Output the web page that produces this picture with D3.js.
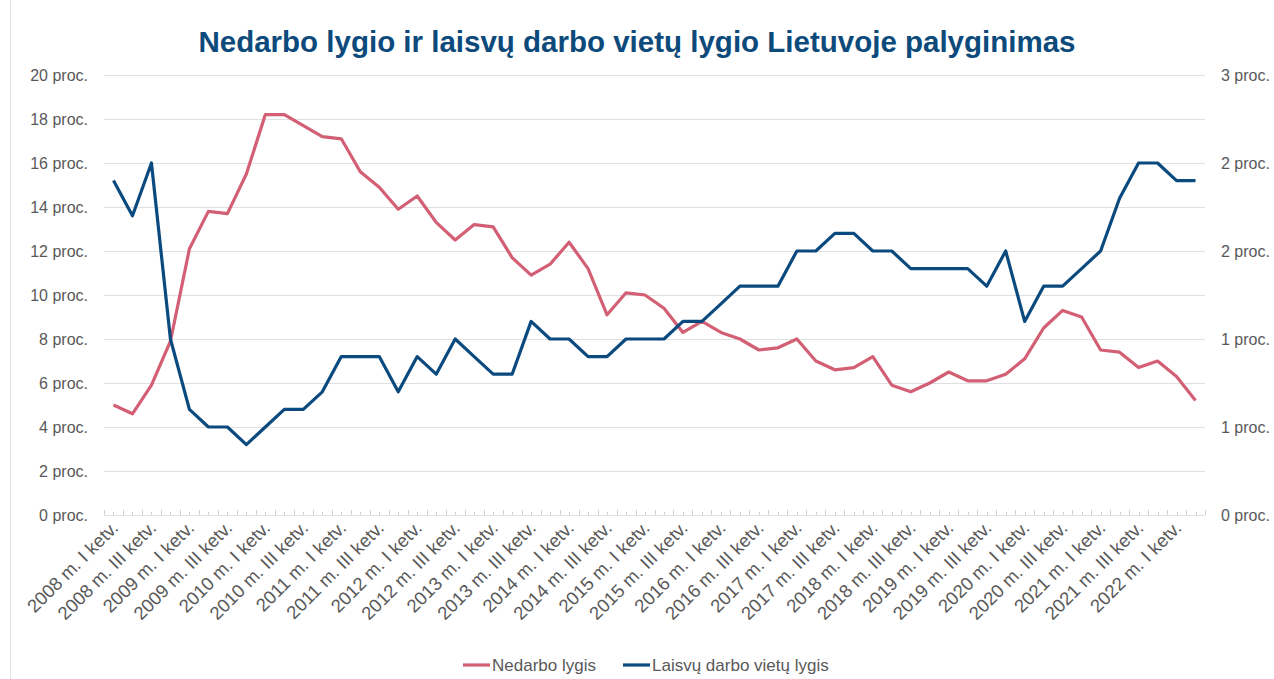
<!DOCTYPE html>
<html>
<head>
<meta charset="utf-8">
<script src="https://cdn.jsdelivr.net/npm/d3@7"></script>
<style>
  body { margin: 0; background: #fff; }
  text { font-family: "Liberation Sans", Arial, sans-serif; }
</style>
</head>
<body>
<div id="chart"></div>
<script>
// data: quarters 2008 I .. 2022 II
var years = [2008, 2009, 2010, 2011, 2012, 2013, 2014, 2015, 2016, 2017, 2018, 2019, 2020, 2021, 2022];
var quarterNames = ["I", "II", "III", "IV"];
var categories = [];
years.forEach(function (y) {
  quarterNames.forEach(function (q) {
    if (y == 2022 && (q == "III" || q == "IV")) return;
    categories.push(y + " m. " + q + " ketv.");
  });
});

// Nedarbo lygis (left axis, proc.)
var unemployment = [5.0, 4.6, 5.9, 7.9, 12.1, 13.8, 13.7, 15.5, 18.2, 18.2,
  17.7, 17.2, 17.1, 15.6, 14.9, 13.9, 14.5, 13.3, 12.5, 13.2,
  13.1, 11.7, 10.9, 11.4, 12.4, 11.2, 9.1, 10.1, 10.0, 9.4,
  8.3, 8.8, 8.3, 8.0, 7.5, 7.6, 8.0, 7.0, 6.6, 6.7,
  7.2, 5.9, 5.6, 6.0, 6.5, 6.1, 6.1, 6.4, 7.1, 8.5,
  9.3, 9.0, 7.5, 7.4, 6.7, 7.0, 6.3, 5.2];

// Laisvų darbo vietų lygis (right axis, proc.)
var vacancies = [1.9, 1.7, 2.0, 1.0, 0.6, 0.5, 0.5, 0.4, 0.5, 0.6,
  0.6, 0.7, 0.9, 0.9, 0.9, 0.7, 0.9, 0.8, 1.0, 0.9,
  0.8, 0.8, 1.1, 1.0, 1.0, 0.9, 0.9, 1.0, 1.0, 1.0,
  1.1, 1.1, 1.2, 1.3, 1.3, 1.3, 1.5, 1.5, 1.6, 1.6,
  1.5, 1.5, 1.4, 1.4, 1.4, 1.4, 1.3, 1.5, 1.1, 1.3,
  1.3, 1.4, 1.5, 1.8, 2.0, 2.0, 1.9, 1.9];

var leftTicks = [0, 2, 4, 6, 8, 10, 12, 14, 16, 18, 20];
var rightTicks = [0, 0.5, 1, 1.5, 2, 2.5];

var seriesNames = ["Nedarbo lygis", "Laisvų darbo vietų lygis"];
var colors = ["#d35f75", "#0b4a7e"];

var W = 1274, H = 679;
var plotLeft = 104, plotRight = 1205, plotTop = 75, plotBottom = 515;

var svg = d3.select("#chart").append("svg")
  .attr("width", W).attr("height", H);

// chart border (left edge visible)
svg.append("line")
  .attr("x1", 10.5).attr("x2", 10.5).attr("y1", 0).attr("y2", H)
  .attr("stroke", "#e4e4e4");

var x = d3.scaleBand().domain(categories).range([plotLeft, plotRight]);
var yL = d3.scaleLinear().domain([0, 20]).range([plotBottom, plotTop]);
var yR = d3.scaleLinear().domain([0, 2.5]).range([plotBottom, plotTop]);

function cx(d) { return x(d) + x.bandwidth() / 2; }

// gridlines
svg.append("g").selectAll("line").data(leftTicks).enter().append("line")
  .attr("x1", plotLeft).attr("x2", plotRight)
  .attr("y1", function (d) { return Math.round(yL(d)) + 0.5; })
  .attr("y2", function (d) { return Math.round(yL(d)) + 0.5; })
  .attr("stroke", "#e0e0e0").attr("stroke-width", 1.2);

// small ticks along the category axis
var tickPos = [];
categories.forEach(function (c) {
  tickPos.push({ x: x(c), major: true });
  tickPos.push({ x: cx(c), major: false });
});
tickPos.push({ x: plotRight, major: true });
svg.append("g").selectAll("line").data(tickPos).enter().append("line")
  .attr("x1", function (d) { return Math.round(d.x) + 0.5; })
  .attr("x2", function (d) { return Math.round(d.x) + 0.5; })
  .attr("y1", plotBottom)
  .attr("y2", function (d) { return d.major ? plotBottom - 5 : plotBottom - 3; })
  .attr("stroke", "#d0d0d0");

// left axis
var gl = svg.append("g")
  .attr("transform", "translate(" + plotLeft + ",0)")
  .call(d3.axisLeft(yL).tickValues(leftTicks)
    .tickFormat(function (d) { return d + " proc."; })
    .tickSize(0).tickPadding(16));

// right axis
var gr = svg.append("g")
  .attr("transform", "translate(" + plotRight + ",0)")
  .call(d3.axisRight(yR).tickValues(rightTicks)
    .tickFormat(function (d) { return Math.round(d) + " proc."; })
    .tickSize(0).tickPadding(16));

// bottom axis labels (every second quarter)
var gx = svg.append("g")
  .attr("transform", "translate(0," + plotBottom + ")")
  .call(d3.axisBottom(x)
    .tickValues(categories.filter(function (d, i) { return i % 2 == 0; }))
    .tickSize(0));

[gl, gr, gx].forEach(function (g) {
  g.select(".domain").remove();
  g.selectAll("text")
    .style("font-family", "'Liberation Sans', Arial, sans-serif")
    .style("font-size", "16px")
    .attr("fill", "#595959");
});
gx.selectAll(".tick text")
  .style("font-size", "18.5px")
  .attr("text-anchor", "end")
  .attr("x", 0).attr("y", 0).attr("dy", 0)
  .attr("transform", "translate(6,14) rotate(-45)");

// lines
var lineL = d3.line()
  .x(function (d, i) { return cx(categories[i]); })
  .y(function (d) { return yL(d); });
var lineR = d3.line()
  .x(function (d, i) { return cx(categories[i]); })
  .y(function (d) { return yR(d); });

svg.append("path").datum(unemployment)
  .attr("d", lineL)
  .attr("fill", "none").attr("stroke", colors[0])
  .attr("stroke-width", 3.2).attr("stroke-linejoin", "round");

svg.append("path").datum(vacancies)
  .attr("d", lineR)
  .attr("fill", "none").attr("stroke", colors[1])
  .attr("stroke-width", 3.2).attr("stroke-linejoin", "round");

// title
svg.append("text")
  .attr("x", 637).attr("y", 52)
  .attr("text-anchor", "middle")
  .style("font-size", "29.5px").style("font-weight", "bold")
  .attr("fill", "#0d4a7c")
  .text("Nedarbo lygio ir laisvų darbo vietų lygio Lietuvoje palyginimas");

// legend
var legendX = [463, 623];
var lg = svg.append("g").selectAll("g").data(seriesNames).enter().append("g")
  .attr("transform", function (d, i) { return "translate(" + legendX[i] + ",665)"; });
lg.append("line")
  .attr("x1", 0).attr("x2", 27).attr("y1", 0).attr("y2", 0)
  .attr("stroke", function (d, i) { return colors[i]; })
  .attr("stroke-width", 3.2);
lg.append("text")
  .attr("x", 29).attr("y", 6)
  .style("font-size", "17px")
  .attr("fill", "#595959")
  .text(function (d) { return d; });
</script>
</body>
</html>
